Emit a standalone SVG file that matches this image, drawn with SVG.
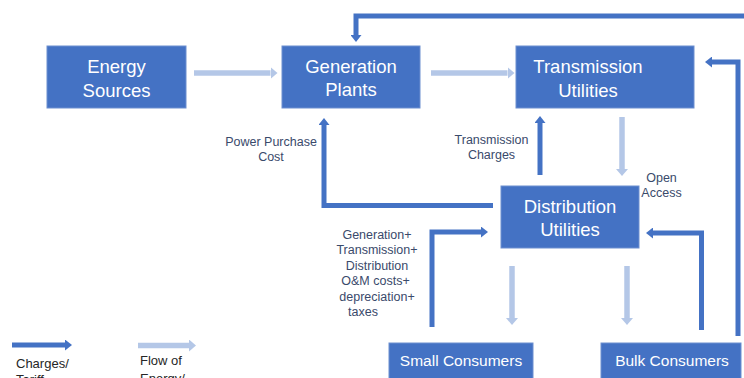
<svg xmlns="http://www.w3.org/2000/svg" width="744" height="378" viewBox="0 0 744 378">
<style>
.box{fill:#4472C4;stroke:#6D8FD0;stroke-width:1}
.nt{font-family:"Liberation Sans",Arial,sans-serif;font-size:18.5px;fill:#ffffff;text-anchor:middle}
.ct{font-family:"Liberation Sans",Arial,sans-serif;font-size:15.5px;fill:#ffffff;text-anchor:middle}
.lb{font-family:"Liberation Sans",Arial,sans-serif;font-size:12.5px;fill:#3A4A6B;text-anchor:middle}
.lg{font-family:"Liberation Sans",Arial,sans-serif;font-size:13px;fill:#262626}
.dk{fill:none;stroke:#4472C4;stroke-width:5;stroke-linejoin:miter;marker-end:url(#hd)}
.lt{fill:none;stroke:#B4C7E7;stroke-width:5.5;marker-end:url(#hl)}
</style>
<defs>
<marker id="hd" markerUnits="userSpaceOnUse" viewBox="0 0 7 11" refX="0" refY="5.5" markerWidth="7" markerHeight="11" orient="auto"><path d="M0,0 L7,5.5 L0,11 z" fill="#4472C4"/></marker>
<marker id="hl" markerUnits="userSpaceOnUse" viewBox="0 0 7 12" refX="0" refY="6" markerWidth="7" markerHeight="12" orient="auto"><path d="M0,0 L7,6 L0,12 z" fill="#B4C7E7"/></marker>
</defs>
<g id="connectors">
<path class="lt" d="M194,73 H270.5"/>
<path class="lt" d="M431,73 H507.5"/>
<path class="lt" d="M622,117 V169"/>
<path class="lt" d="M512,266 V318"/>
<path class="lt" d="M627,266 V318"/>
<path class="dk" d="M760,16 H356 V35"/>
<path class="dk" d="M738,336 V62 H712"/>
<path class="dk" d="M701.5,330 V233 H653"/>
<path class="dk" d="M432,327 V232 H481"/>
<path class="dk" d="M493,205.5 H324 V125"/>
<path class="dk" d="M540,175 V123"/>
</g>
<g id="energy-sources"><rect class="box" x="47" y="46" width="139" height="62"/><text class="nt" x="116.5" y="73.3">Energy</text><text class="nt" x="116.5" y="96.5">Sources</text></g>
<g id="generation-plants"><rect class="box" x="282" y="46" width="138" height="62"/><text class="nt" x="351" y="73">Generation</text><text class="nt" x="351" y="96.3">Plants</text></g>
<g id="transmission-utilities"><rect class="box" x="516" y="46" width="178" height="62"/><text class="nt" x="588" y="73.3">Transmission</text><text class="nt" x="588" y="96.5">Utilities</text></g>
<g id="distribution-utilities"><rect class="box" x="501" y="186" width="138" height="62"/><text class="nt" x="570" y="212.7">Distribution</text><text class="nt" x="570" y="236">Utilities</text></g>
<g id="small-consumers"><rect class="box" x="389" y="343" width="144" height="45"/><text class="ct" x="461" y="365.7">Small Consumers</text></g>
<g id="bulk-consumers"><rect class="box" x="601" y="343" width="140" height="45"/><text class="ct" x="672" y="365.7">Bulk Consumers</text></g>
<g id="labels">
<text class="lb" x="271" y="145.5">Power Purchase</text><text class="lb" x="271" y="161">Cost</text>
<text class="lb" x="491.5" y="144.3">Transmission</text><text class="lb" x="491.5" y="159.3">Charges</text>
<text class="lb" x="661.5" y="181.7">Open</text><text class="lb" x="661.5" y="196.7">Access</text>
<text class="lb" x="377" y="239">Generation+</text>
<text class="lb" x="377" y="254.4">Transmission+</text>
<text class="lb" x="377" y="269.8">Distribution</text>
<text class="lb" x="375.5" y="285.2">O&amp;M costs+</text>
<text class="lb" x="377" y="300.6">depreciation+</text>
<text class="lb" x="363" y="316">taxes</text>
</g>
<g id="legend">
<path class="dk" d="M12,345 H65"/>
<path class="lt" d="M138,345.5 H189"/>
<text class="lg" x="16" y="367.5">Charges/</text><text class="lg" x="16" y="384">Tariff</text>
<text class="lg" x="140" y="365">Flow of</text><text class="lg" x="140" y="382.6">Energy/</text>
</g>
</svg>
